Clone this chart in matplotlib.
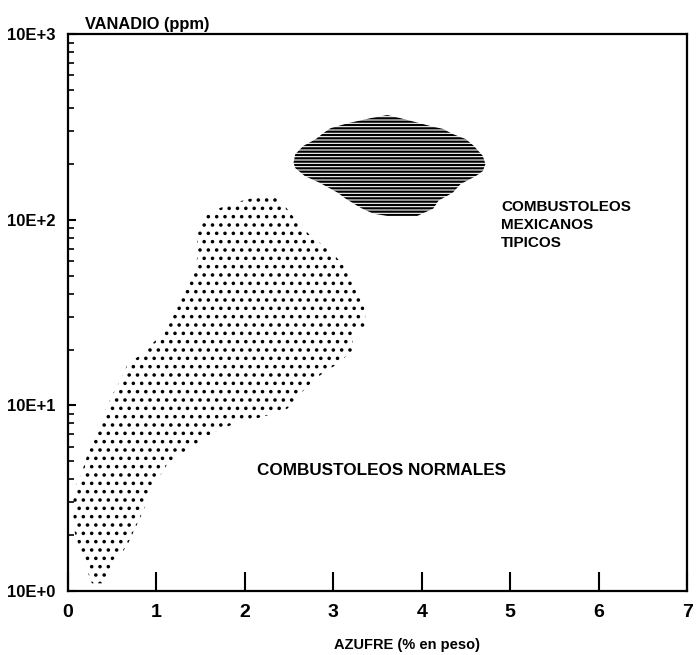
import numpy as np
import matplotlib.pyplot as plt
from matplotlib.patches import Polygon
from matplotlib.ticker import FixedLocator, FixedFormatter, LogLocator, NullFormatter

# contorno de combustoleos normales (azufre %, vanadio ppm)
azufre_normal = [2.20, 2.37, 2.51, 2.74, 2.97, 3.14, 3.28, 3.36, 3.36, 3.22, 3.22, 3.05,
                 2.80, 2.63, 2.48, 2.21, 1.89, 1.66, 1.38, 1.13, 0.99, 0.91, 0.84, 0.76,
                 0.68, 0.61, 0.51, 0.42, 0.27, 0.14, 0.06, 0.06, 0.14, 0.22, 0.28, 0.36,
                 0.42, 0.51, 0.61, 0.68, 0.82, 0.99, 1.13, 1.21, 1.30, 1.38, 1.46, 1.46,
                 1.52, 1.59, 1.83]
vanadio_normal = [135, 135, 109, 82, 68, 55, 42.6, 32.4, 26.3, 24.4, 19.8, 16.8,
                  14.0, 11.6, 9.6, 8.7, 8.0, 7.2, 5.9, 4.9, 3.8, 3.16, 2.63, 2.18,
                  1.81, 1.60, 1.47, 1.1, 1.1, 1.62, 2.21, 3.49, 4.10, 5.45, 6.56, 8.0,
                  9.4, 11.6, 14.2, 17.0, 18.6, 22.4, 26.9, 32.4, 39.0, 47.0, 61.7, 90.6,
                  100, 109, 122]

# contorno de combustoleos mexicanos
azufre_mex = [3.42, 3.61, 3.76, 4.10, 4.24, 4.35, 4.50, 4.59, 4.69, 4.72, 4.69, 4.61,
              4.44, 4.35, 4.19, 4.13, 3.95, 3.61, 3.45, 3.31, 3.14, 3.05, 2.85, 2.68,
              2.57, 2.55, 2.57, 2.66, 2.80, 2.89, 2.97, 3.17]
vanadio_mex = [353, 367, 353, 320, 309, 290, 272, 250, 221, 200, 183, 172,
               156, 140, 127, 115, 105, 105, 108, 116, 130, 140, 158, 172,
               190, 203, 226, 250, 272, 294, 312, 332]

x_ticks = [0, 1, 2, 3, 4, 5, 6, 7]
y_ticks = [1, 10, 100, 1000]
y_labels = ['10E+0', '10E+1', '10E+2', '10E+3']

fuente = ['Liberation Sans', 'DejaVu Sans']

fig = plt.figure(figsize=(6.98, 6.55), dpi=100)
ax = fig.add_axes([0.0974, 0.0977, 0.887, 0.850])
ax.set_yscale('log')
ax.set_xlim(0, 7)
ax.set_ylim(1, 1000)

with plt.rc_context({'hatch.linewidth': 1.35}):
    puntos = Polygon(np.column_stack([azufre_normal, vanadio_normal]), closed=True,
                     facecolor='none', edgecolor='black', linewidth=0, hatch='..')
    ax.add_patch(puntos)
with plt.rc_context({'hatch.linewidth': 1.6}):
    rayas = Polygon(np.column_stack([azufre_mex, vanadio_mex]), closed=True,
                    facecolor='none', edgecolor='black', linewidth=0, hatch='-----')
    ax.add_patch(rayas)

for s in ax.spines.values():
    s.set_linewidth(1.6)

ax.xaxis.set_major_locator(FixedLocator(x_ticks))
ax.set_xticklabels([str(t) for t in x_ticks], fontfamily=fuente, fontweight='bold')
ax.tick_params(axis='x', which='major', direction='in', length=14, width=1.5,
               pad=9, labelsize=14)
ax.yaxis.set_major_locator(FixedLocator(y_ticks))
ax.yaxis.set_major_formatter(FixedFormatter(y_labels))
ax.yaxis.set_minor_locator(LogLocator(base=10, subs=np.arange(2, 10)))
ax.yaxis.set_minor_formatter(NullFormatter())
ax.tick_params(axis='y', which='major', direction='in', length=6, width=1.5,
               pad=9, labelsize=12)
ax.tick_params(axis='y', which='minor', direction='in', length=4, width=1.2)
for lbl in ax.get_yticklabels():
    lbl.set_fontfamily(fuente)
    lbl.set_fontweight('bold')

fig.text(0.122, 0.962, 'VANADIO (ppm)', fontsize=11.8, fontweight='bold',
         family=fuente, ha='left', va='center')
fig.text(0.0974 + 0.887 * 0.548, 0.015, 'AZUFRE (% en peso)', fontsize=10.5,
         fontweight='bold', family=fuente, ha='center', va='center')

ax.text(4.90, 128, 'COMBUSTOLEOS\nMEXICANOS\nTIPICOS', fontsize=11, fontweight='bold',
        family=fuente, ha='left', va='top', linespacing=1.35)
ax.text(2.14, 4.47, 'COMBUSTOLEOS NORMALES', fontsize=12.3, fontweight='bold',
        family=fuente, ha='left', va='center')

fig.savefig('out.png', dpi=100)
